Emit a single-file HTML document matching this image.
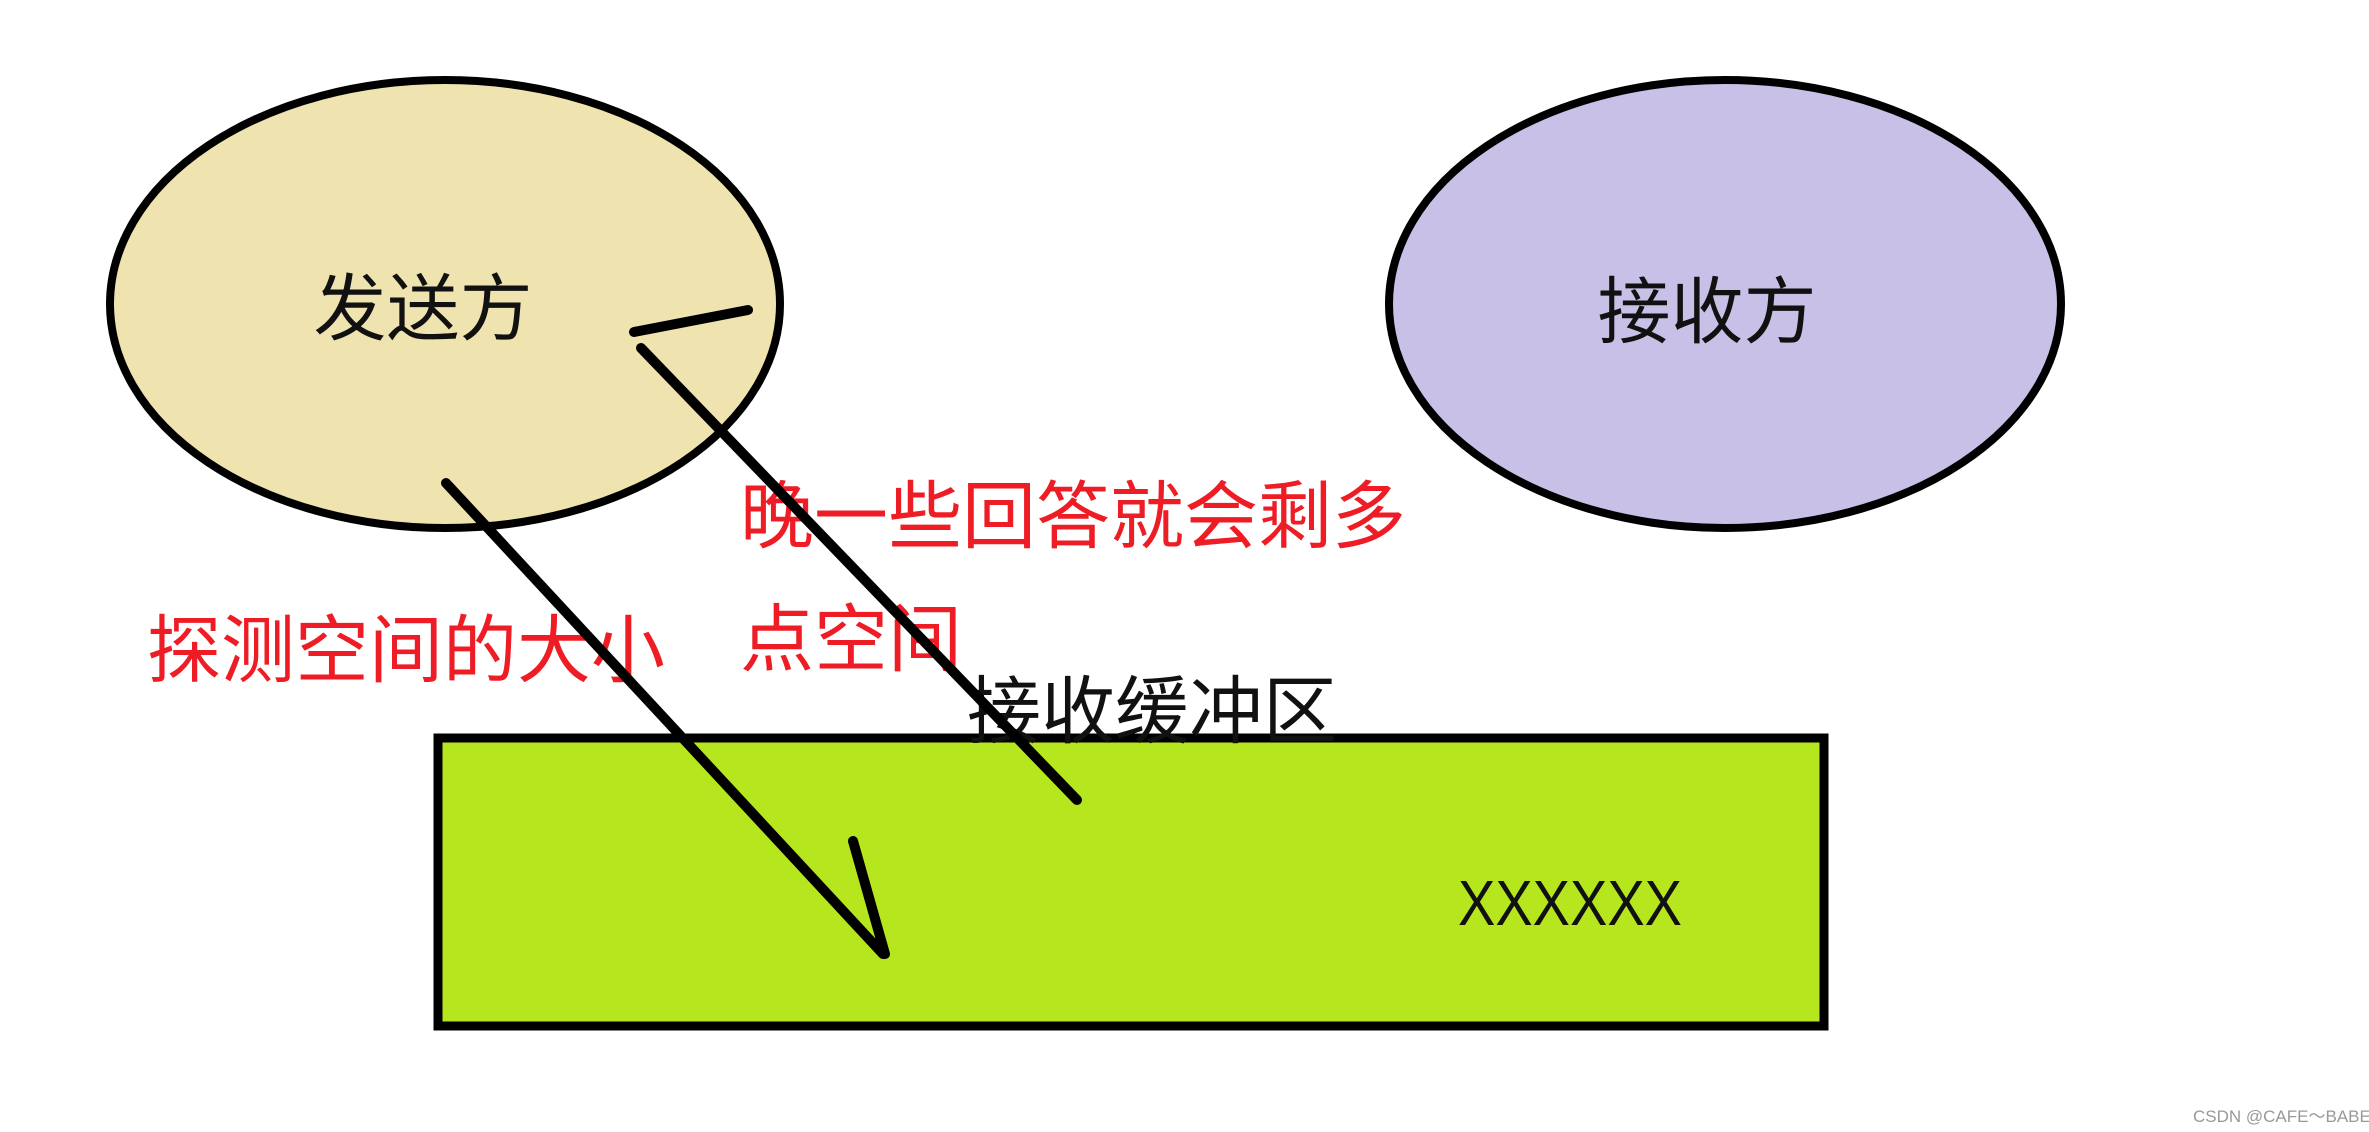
<!DOCTYPE html>
<html><head><meta charset="utf-8"><style>
html,body{margin:0;padding:0;background:#fff;}
body{width:2369px;height:1132px;overflow:hidden;position:relative;}
svg{position:absolute;left:0;top:0;}
text{font-family:"Liberation Sans","Noto Sans CJK SC",sans-serif;}
</style></head><body>
<svg width="2369" height="1132" viewBox="0 0 2369 1132">
<ellipse cx="445" cy="304" rx="335" ry="224" fill="#efe3b0" stroke="#000" stroke-width="8"/>
<ellipse cx="1725" cy="304" rx="336" ry="224" fill="#c8c0e6" stroke="#000" stroke-width="8"/>
<rect x="438" y="738" width="1386" height="288" fill="#b6e61e" stroke="#000" stroke-width="9"/>
<text x="423" y="334" font-size="73" text-anchor="middle" fill="#111">发送方</text>
<text x="1707" y="337" font-size="73" text-anchor="middle" fill="#111">接收方</text>
<text x="147" y="676" font-size="74" fill="#ee1c24">探测空间的大小</text>
<text x="740" y="542" font-size="74" fill="#ee1c24">晚一些回答就会剩多</text>
<text x="740" y="665" font-size="74" fill="#ee1c24">点空间</text>
<text x="967" y="737" font-size="74" fill="#111">接收缓冲区</text>
<text x="1458" y="925" font-size="64" fill="#111" textLength="224" lengthAdjust="spacingAndGlyphs">XXXXXX</text>
<g stroke="#000" stroke-width="10" stroke-linecap="round" fill="none">
<line x1="634" y1="332" x2="748" y2="310"/>
<line x1="641" y1="348" x2="1077" y2="800"/>
<line x1="446" y1="483" x2="883" y2="954"/>
<line x1="853" y1="841" x2="885" y2="954"/>
</g>
<text x="2193" y="1122" font-size="17" fill="#999">CSDN @CAFE～BABE</text>
</svg>
</body></html>
